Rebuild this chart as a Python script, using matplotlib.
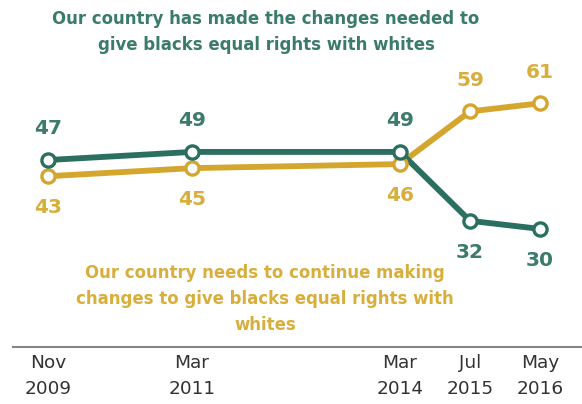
import matplotlib
matplotlib.use("Agg")
import matplotlib.pyplot as plt

# Data
tick_labels = ["Nov\n2009", "Mar\n2011", "Mar\n2014", "Jul\n2015", "May\n2016"]
x_pos = [48, 192, 400, 470, 540]  # relative horizontal spacing of survey dates
made_changes = [47, 49, 49, 32, 30]
needs_changes = [43, 45, 46, 59, 61]

teal = "#2b6f60"
gold = "#d4a62e"
teal_txt = "#3a7b6c"
gold_txt = "#d8ae3c"

W, H = 582, 404
fig = plt.figure(figsize=(W / 100, H / 100), dpi=100)
ax = fig.add_axes([13 / W, 1 - 347 / H, 1 - 13 / W, 347 / H])
ax.set_xlim(13, 582)
ax.set_ylim(0.85, 86.5)

for vals, col in [(needs_changes, gold), (made_changes, teal)]:
    ax.plot(x_pos, vals, color=col, lw=4.2, solid_capstyle="round", zorder=2)
    ax.plot(x_pos, vals, ls="none", marker="o", ms=9.5, mfc="white",
            mec=col, mew=2.4, zorder=3)

for x, a, b in zip(x_pos, made_changes, needs_changes):
    up_a = a >= b
    ax.annotate(str(a), (x, a), xytext=(0, 22.5 if up_a else -22.5),
                textcoords="offset points", ha="center", va="center",
                fontsize=14.5, fontweight="bold", color=teal_txt)
    ax.annotate(str(b), (x, b), xytext=(0, -22.5 if up_a else 22.5),
                textcoords="offset points", ha="center", va="center",
                fontsize=14.5, fontweight="bold", color=gold_txt)

font_kw = dict(fontsize=13.2, fontweight="bold", fontstretch="condensed",
               family=["DejaVu Sans"], ha="center", va="center",
               transform=fig.transFigure, linespacing=1.55)
fig.text(266 / W, 1 - 32 / H,
         "Our country has made the changes needed to\ngive blacks equal rights with whites",
         color=teal_txt, **font_kw)
fig.text(265 / W, 1 - 299 / H,
         "Our country needs to continue making\nchanges to give blacks equal rights with\nwhites",
         color=gold_txt, **font_kw)

for s in ["top", "left", "right"]:
    ax.spines[s].set_visible(False)
ax.spines["bottom"].set_color("#858585")
ax.spines["bottom"].set_linewidth(1.5)
ax.set_yticks([])
ax.set_xticks(x_pos, tick_labels)
ax.tick_params(axis="x", length=0, pad=5, labelsize=13.3, labelcolor="#333333")
for t in ax.get_xticklabels():
    t.set_linespacing(1.55)

fig.savefig("out.png", dpi=100)
